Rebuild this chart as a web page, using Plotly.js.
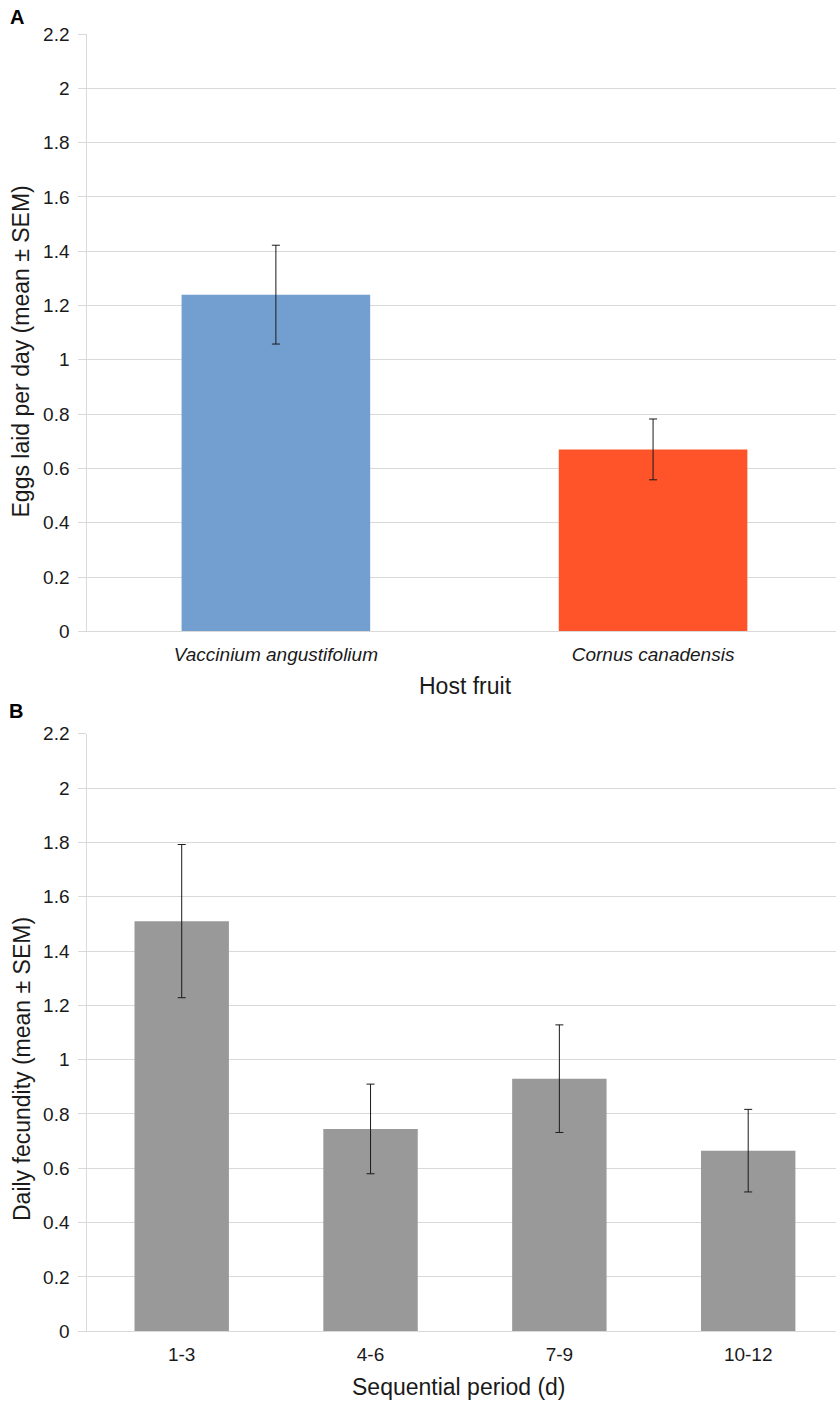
<!DOCTYPE html>
<html><head><meta charset="utf-8">
<script src="https://cdn.plot.ly/plotly-3.0.1.min.js"></script>
<style>html,body{margin:0;padding:0;background:#fff}#chart{width:836px;height:1404px}</style>
</head><body><div id="chart"></div>
<script>
// Panel A data
const hostFruits = ['Vaccinium angustifolium', 'Cornus canadensis'];
const eggsMean = [1.24, 0.67];
const eggsSem = [0.182, 0.112];
const hostColors = ['#729FCF', '#FF5429'];
// Panel B data
const periods = ['1-3', '4-6', '7-9', '10-12'];
const fecundityMean = [1.51, 0.745, 0.93, 0.665];
const fecunditySem = [0.282, 0.165, 0.198, 0.152];
const barGrey = '#999999';
// Axis ticks
const yTickVals = [0, 0.2, 0.4, 0.6, 0.8, 1, 1.2, 1.4, 1.6, 1.8, 2, 2.2];
const yTickText = ['0', '0.2', '0.4', '0.6', '0.8', '1', '1.2', '1.4', '1.6', '1.8', '2', '2.2'];

const W = 836, H = 1404;
const FONT = 'Liberation Sans, Arial, Helvetica, sans-serif';
const TXT = '#1a1a1a';
const GRID = '#d9d9d9';
const py = p => 1 - p / H;
const px = p => p / W;

const errStyle = {type: 'data', visible: true, color: '#1a1a1a', thickness: 1, width: 4};

const traces = [
  {type: 'bar', x: hostFruits, y: eggsMean, xaxis: 'x', yaxis: 'y',
   marker: {color: hostColors, line: {width: 0}},
   error_y: Object.assign({array: eggsSem}, errStyle), hoverinfo: 'x+y'},
  {type: 'bar', x: periods, y: fecundityMean, xaxis: 'x2', yaxis: 'y2',
   marker: {color: barGrey, line: {width: 0}},
   error_y: Object.assign({array: fecunditySem}, errStyle), hoverinfo: 'x+y'}
];

const xBase = {
  domain: [px(87.3), 1], showgrid: false, zeroline: false,
  showline: true, linecolor: GRID, linewidth: 1, ticks: '',
  ticklabelstandoff: 6, automargin: false, fixedrange: true, type: 'category'
};
const yBase = {
  range: [0, 2.2], tickmode: 'array', tickvals: yTickVals, ticktext: yTickText,
  showgrid: true, gridcolor: GRID, gridwidth: 1, zeroline: false,
  showline: true, linecolor: GRID, linewidth: 1,
  ticks: 'outside', ticklen: 8, tickcolor: GRID, tickwidth: 1,
  tickfont: {family: FONT, size: 19, color: TXT}, ticklabelstandoff: 5,
  automargin: false, fixedrange: true
};

const layout = {
  width: W, height: H,
  margin: {l: 0, r: 0, t: 0, b: 0, pad: 0},
  paper_bgcolor: '#ffffff', plot_bgcolor: '#ffffff',
  showlegend: false, bargap: 0.5,
  font: {family: FONT, size: 19, color: TXT},
  xaxis: Object.assign({}, xBase, {anchor: 'y', range: [-0.5, 1.485],
    tickfont: {family: FONT, size: 19, color: TXT, style: 'italic'}}),
  yaxis: Object.assign({}, yBase, {anchor: 'x', domain: [py(631.3), py(34)]}),
  xaxis2: Object.assign({}, xBase, {anchor: 'y2', range: [-0.5, 3.465],
    tickfont: {family: FONT, size: 19, color: TXT}}),
  yaxis2: Object.assign({}, yBase, {anchor: 'x2', domain: [py(1331.3), py(733.7)]}),
  annotations: [
    {text: '<b>A</b>', xref: 'paper', yref: 'paper', x: px(16.5), y: py(17),
     xanchor: 'center', yanchor: 'middle', showarrow: false, font: {family: FONT, size: 20, color: '#000'}},
    {text: '<b>B</b>', xref: 'paper', yref: 'paper', x: px(16), y: py(710.5),
     xanchor: 'center', yanchor: 'middle', showarrow: false, font: {family: FONT, size: 20, color: '#000'}},
    {text: 'Eggs laid per day (mean ± SEM)', xref: 'paper', yref: 'paper', x: px(21), y: py(351.5),
     xanchor: 'center', yanchor: 'middle', textangle: -90, showarrow: false, font: {family: FONT, size: 23, color: TXT}},
    {text: 'Daily fecundity (mean ± SEM)', xref: 'paper', yref: 'paper', x: px(22), y: py(1069),
     xanchor: 'center', yanchor: 'middle', textangle: -90, showarrow: false, font: {family: FONT, size: 23, color: TXT}},
    {text: 'Host fruit', xref: 'paper', yref: 'paper', x: px(465), y: py(686),
     xanchor: 'center', yanchor: 'middle', showarrow: false, font: {family: FONT, size: 23, color: TXT}},
    {text: 'Sequential period (d)', xref: 'paper', yref: 'paper', x: px(459), y: py(1387),
     xanchor: 'center', yanchor: 'middle', showarrow: false, font: {family: FONT, size: 23, color: TXT}}
  ]
};

Plotly.newPlot('chart', traces, layout, {displayModeBar: false, staticPlot: true});
</script>
</body></html>
